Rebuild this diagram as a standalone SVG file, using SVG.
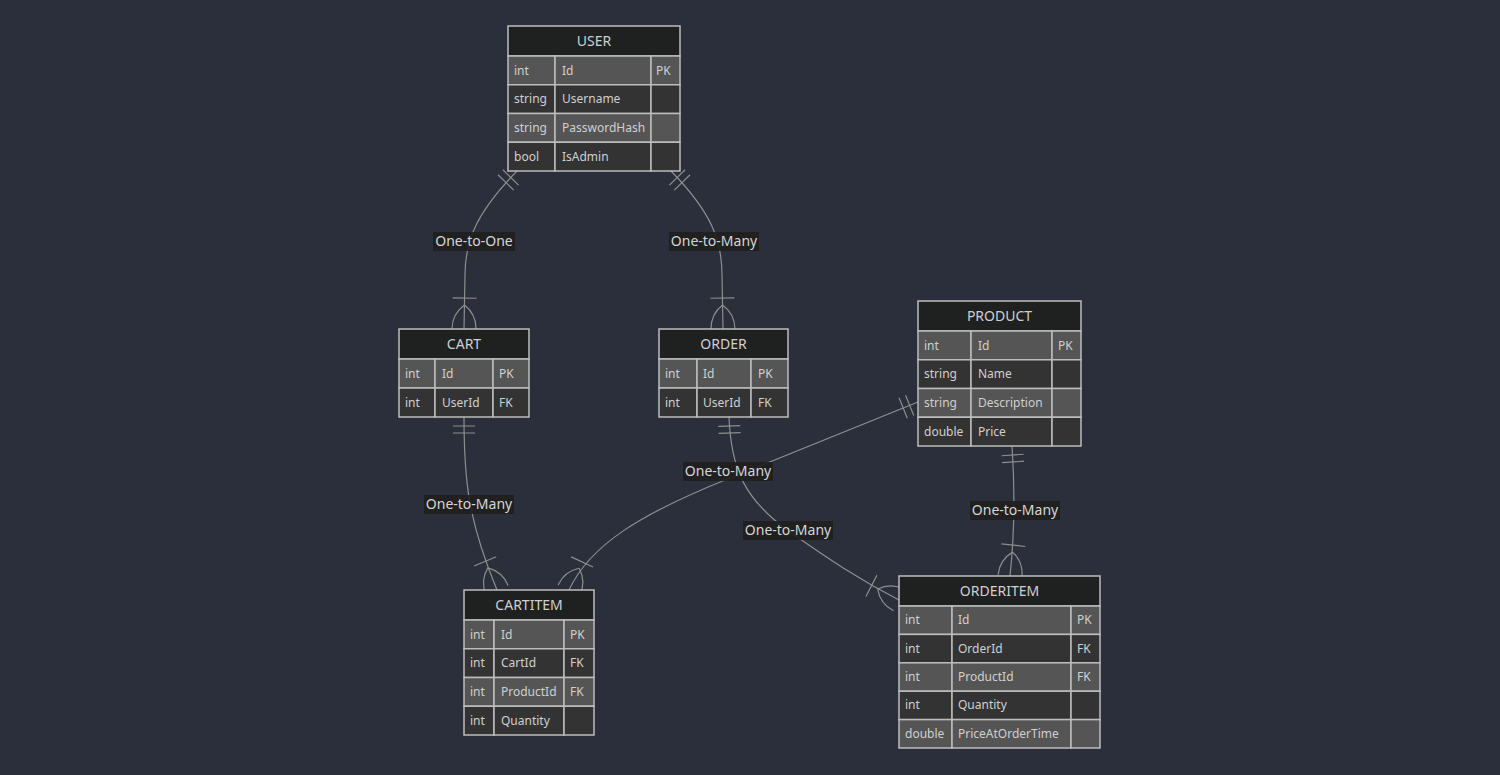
<svg xmlns="http://www.w3.org/2000/svg" width="1500" height="775" viewBox="0 0 1500 775">
  <style>
    .bg { fill: #2a2f3b; }
    .hd { fill: #1f2020; stroke: #bdbdbd; stroke-width: 1.5; }
    .odd { fill: #555555; stroke: #bdbdbd; stroke-width: 1.5; }
    .even { fill: #333333; stroke: #bdbdbd; stroke-width: 1.5; }
    .title { font-family: "Noto Sans", "DejaVu Sans", sans-serif; font-size: 14px; fill: #d0d0d0; text-anchor: middle; }
    .cell { font-family: "Noto Sans", "DejaVu Sans", sans-serif; font-size: 12px; fill: #d0d0d0; }
    .rel { fill: none; stroke: #8e8e8e; stroke-width: 1.2; }
    .mk { fill: none; stroke: #8e8e8e; stroke-width: 1.2; }
    .lblbg { fill: #1f2020; opacity: 0.92; }
    .lbl { font-family: "Noto Sans", "DejaVu Sans", sans-serif; font-size: 14px; fill: #d6d6d6; text-anchor: middle; }
  </style>
  <defs>
    <!-- exactly one: two bars next to the entity -->
    <marker id="onlyOne" markerUnits="userSpaceOnUse" markerWidth="24" markerHeight="24" refX="0" refY="11" orient="auto" overflow="visible">
      <path class="mk" d="M9,0 L9,22 M16,0 L16,22"/>
    </marker>
    <!-- one or more: bar plus crow's foot -->
    <marker id="oneOrMore" markerUnits="userSpaceOnUse" markerWidth="50" markerHeight="40" refX="45" refY="18" orient="auto" overflow="visible">
      <path class="mk" d="M14,6 L14,30 M21,18 Q30,6 45,6 M21,18 Q30,30 45,30"/>
    </marker>
  </defs>

  <rect class="bg" x="0" y="0" width="1500" height="775"/>

  <g id="connectors">
    <path class="rel" d="M517,171 C477,212 465,240 465,275 L464,329" marker-start="url(#onlyOne)" marker-end="url(#oneOrMore)"/>
    <path class="rel" d="M671,171 C711,212 722,240 722,275 L723,329" marker-start="url(#onlyOne)" marker-end="url(#oneOrMore)"/>
    <path class="rel" d="M464,417 C464,480 468,520 497,590" marker-start="url(#onlyOne)" marker-end="url(#oneOrMore)"/>
    <path class="rel" d="M918,402 L730,478 C640,514 590,545 569,590" marker-start="url(#onlyOne)" marker-end="url(#oneOrMore)"/>
    <path class="rel" d="M729,417 C731,470 745,500 790,532 C830,560 860,580 899,600" marker-start="url(#onlyOne)" marker-end="url(#oneOrMore)"/>
    <path class="rel" d="M1012,446 C1015,490 1015,530 1010,576" marker-start="url(#onlyOne)" marker-end="url(#oneOrMore)"/>

    <rect class="lblbg" x="433" y="232" width="82" height="19"/>
    <text class="lbl" x="474" y="246">One-to-One</text>
    <rect class="lblbg" x="669" y="232" width="90" height="19"/>
    <text class="lbl" x="714" y="246">One-to-Many</text>
    <rect class="lblbg" x="424" y="495" width="90" height="19"/>
    <text class="lbl" x="469" y="509">One-to-Many</text>
    <rect class="lblbg" x="683" y="462" width="90" height="19"/>
    <text class="lbl" x="728" y="476">One-to-Many</text>
    <rect class="lblbg" x="743" y="521" width="90" height="19"/>
    <text class="lbl" x="788" y="535">One-to-Many</text>
    <rect class="lblbg" x="970" y="501" width="90" height="19"/>
    <text class="lbl" x="1015" y="515">One-to-Many</text>
  </g>

  <g id="user">
    <rect class="hd" x="508" y="26" width="172" height="30"/>
    <text class="title" x="594" y="46">USER</text>
    <rect class="odd" x="508" y="56" width="47" height="28.75"/>
    <rect class="odd" x="555" y="56" width="96" height="28.75"/>
    <rect class="odd" x="651" y="56" width="29" height="28.75"/>
    <rect class="even" x="508" y="84.75" width="47" height="28.75"/>
    <rect class="even" x="555" y="84.75" width="96" height="28.75"/>
    <rect class="even" x="651" y="84.75" width="29" height="28.75"/>
    <rect class="odd" x="508" y="113.5" width="47" height="28.75"/>
    <rect class="odd" x="555" y="113.5" width="96" height="28.75"/>
    <rect class="odd" x="651" y="113.5" width="29" height="28.75"/>
    <rect class="even" x="508" y="142.25" width="47" height="28.75"/>
    <rect class="even" x="555" y="142.25" width="96" height="28.75"/>
    <rect class="even" x="651" y="142.25" width="29" height="28.75"/>
    <text class="cell" x="514" y="74.5">int</text>
    <text class="cell" x="562" y="74.5">Id</text>
    <text class="cell" x="656" y="74.5">PK</text>
    <text class="cell" x="514" y="103">string</text>
    <text class="cell" x="562" y="103">Username</text>
    <text class="cell" x="514" y="132">string</text>
    <text class="cell" x="562" y="132">PasswordHash</text>
    <text class="cell" x="514" y="160.5">bool</text>
    <text class="cell" x="562" y="160.5">IsAdmin</text>
  </g>

  <g id="cart">
    <rect class="hd" x="399" y="329" width="130" height="30"/>
    <text class="title" x="464" y="349">CART</text>
    <rect class="odd" x="399" y="359" width="36" height="29"/>
    <rect class="odd" x="435" y="359" width="58" height="29"/>
    <rect class="odd" x="493" y="359" width="36" height="29"/>
    <rect class="even" x="399" y="388" width="36" height="29"/>
    <rect class="even" x="435" y="388" width="58" height="29"/>
    <rect class="even" x="493" y="388" width="36" height="29"/>
    <text class="cell" x="405" y="377.5">int</text>
    <text class="cell" x="442" y="377.5">Id</text>
    <text class="cell" x="499" y="377.5">PK</text>
    <text class="cell" x="405" y="406.5">int</text>
    <text class="cell" x="442" y="406.5">UserId</text>
    <text class="cell" x="499" y="406.5">FK</text>
  </g>

  <g id="order">
    <rect class="hd" x="659" y="329" width="129" height="30"/>
    <text class="title" x="723.5" y="349">ORDER</text>
    <rect class="odd" x="659" y="359" width="38" height="29"/>
    <rect class="odd" x="697" y="359" width="54" height="29"/>
    <rect class="odd" x="751" y="359" width="37" height="29"/>
    <rect class="even" x="659" y="388" width="38" height="29"/>
    <rect class="even" x="697" y="388" width="54" height="29"/>
    <rect class="even" x="751" y="388" width="37" height="29"/>
    <text class="cell" x="665" y="377.5">int</text>
    <text class="cell" x="703" y="377.5">Id</text>
    <text class="cell" x="758" y="377.5">PK</text>
    <text class="cell" x="665" y="406.5">int</text>
    <text class="cell" x="703" y="406.5">UserId</text>
    <text class="cell" x="758" y="406.5">FK</text>
  </g>

  <g id="product">
    <rect class="hd" x="918" y="301" width="163" height="30"/>
    <text class="title" x="999.5" y="321">PRODUCT</text>
    <rect class="odd" x="918" y="331" width="53" height="28.75"/>
    <rect class="odd" x="971" y="331" width="81" height="28.75"/>
    <rect class="odd" x="1052" y="331" width="29" height="28.75"/>
    <rect class="even" x="918" y="359.75" width="53" height="28.75"/>
    <rect class="even" x="971" y="359.75" width="81" height="28.75"/>
    <rect class="even" x="1052" y="359.75" width="29" height="28.75"/>
    <rect class="odd" x="918" y="388.5" width="53" height="28.75"/>
    <rect class="odd" x="971" y="388.5" width="81" height="28.75"/>
    <rect class="odd" x="1052" y="388.5" width="29" height="28.75"/>
    <rect class="even" x="918" y="417.25" width="53" height="28.75"/>
    <rect class="even" x="971" y="417.25" width="81" height="28.75"/>
    <rect class="even" x="1052" y="417.25" width="29" height="28.75"/>
    <text class="cell" x="924" y="349.5">int</text>
    <text class="cell" x="978" y="349.5">Id</text>
    <text class="cell" x="1058" y="349.5">PK</text>
    <text class="cell" x="924" y="378">string</text>
    <text class="cell" x="978" y="378">Name</text>
    <text class="cell" x="924" y="407">string</text>
    <text class="cell" x="978" y="407">Description</text>
    <text class="cell" x="924" y="435.5">double</text>
    <text class="cell" x="978" y="435.5">Price</text>
  </g>

  <g id="cartitem">
    <rect class="hd" x="464" y="590" width="130" height="30"/>
    <text class="title" x="529" y="610">CARTITEM</text>
    <rect class="odd" x="464" y="620" width="30" height="28.75"/>
    <rect class="odd" x="494" y="620" width="70" height="28.75"/>
    <rect class="odd" x="564" y="620" width="30" height="28.75"/>
    <rect class="even" x="464" y="648.75" width="30" height="28.75"/>
    <rect class="even" x="494" y="648.75" width="70" height="28.75"/>
    <rect class="even" x="564" y="648.75" width="30" height="28.75"/>
    <rect class="odd" x="464" y="677.5" width="30" height="28.75"/>
    <rect class="odd" x="494" y="677.5" width="70" height="28.75"/>
    <rect class="odd" x="564" y="677.5" width="30" height="28.75"/>
    <rect class="even" x="464" y="706.25" width="30" height="28.75"/>
    <rect class="even" x="494" y="706.25" width="70" height="28.75"/>
    <rect class="even" x="564" y="706.25" width="30" height="28.75"/>
    <text class="cell" x="470" y="638.5">int</text>
    <text class="cell" x="501" y="638.5">Id</text>
    <text class="cell" x="570" y="638.5">PK</text>
    <text class="cell" x="470" y="667">int</text>
    <text class="cell" x="501" y="667">CartId</text>
    <text class="cell" x="570" y="667">FK</text>
    <text class="cell" x="470" y="696">int</text>
    <text class="cell" x="501" y="696">ProductId</text>
    <text class="cell" x="570" y="696">FK</text>
    <text class="cell" x="470" y="724.5">int</text>
    <text class="cell" x="501" y="724.5">Quantity</text>
  </g>

  <g id="orderitem">
    <rect class="hd" x="899" y="576" width="201" height="30"/>
    <text class="title" x="999.5" y="596">ORDERITEM</text>
    <rect class="odd" x="899" y="606" width="53" height="28.4"/>
    <rect class="odd" x="952" y="606" width="119" height="28.4"/>
    <rect class="odd" x="1071" y="606" width="29" height="28.4"/>
    <rect class="even" x="899" y="634.4" width="53" height="28.4"/>
    <rect class="even" x="952" y="634.4" width="119" height="28.4"/>
    <rect class="even" x="1071" y="634.4" width="29" height="28.4"/>
    <rect class="odd" x="899" y="662.8" width="53" height="28.4"/>
    <rect class="odd" x="952" y="662.8" width="119" height="28.4"/>
    <rect class="odd" x="1071" y="662.8" width="29" height="28.4"/>
    <rect class="even" x="899" y="691.2" width="53" height="28.4"/>
    <rect class="even" x="952" y="691.2" width="119" height="28.4"/>
    <rect class="even" x="1071" y="691.2" width="29" height="28.4"/>
    <rect class="odd" x="899" y="719.6" width="53" height="28.4"/>
    <rect class="odd" x="952" y="719.6" width="119" height="28.4"/>
    <rect class="odd" x="1071" y="719.6" width="29" height="28.4"/>
    <text class="cell" x="905" y="624.2">int</text>
    <text class="cell" x="958" y="624.2">Id</text>
    <text class="cell" x="1077" y="624.2">PK</text>
    <text class="cell" x="905" y="652.6">int</text>
    <text class="cell" x="958" y="652.6">OrderId</text>
    <text class="cell" x="1077" y="652.6">FK</text>
    <text class="cell" x="905" y="681">int</text>
    <text class="cell" x="958" y="681">ProductId</text>
    <text class="cell" x="1077" y="681">FK</text>
    <text class="cell" x="905" y="709.4">int</text>
    <text class="cell" x="958" y="709.4">Quantity</text>
    <text class="cell" x="905" y="737.8">double</text>
    <text class="cell" x="958" y="737.8">PriceAtOrderTime</text>
  </g>
</svg>
